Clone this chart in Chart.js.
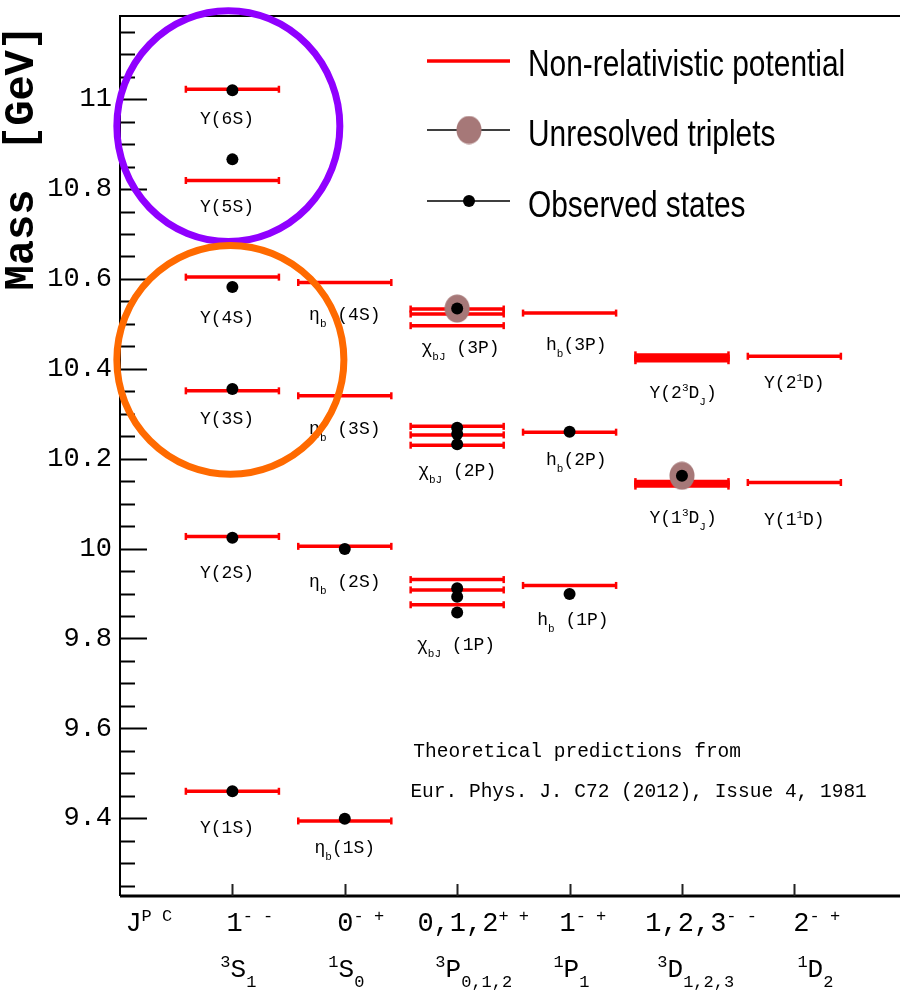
<!DOCTYPE html>
<html>
<head>
<meta charset="utf-8">
<script src="https://cdn.jsdelivr.net/npm/chart.js@4.4.0/dist/chart.umd.min.js"></script>
<style>
html, body { margin: 0; padding: 0; background: #fff; }
#wrap { width: 900px; height: 992px; }
</style>
</head>
<body>
<div id="wrap"><canvas id="chart" width="900" height="992"></canvas></div>
<script>
// --- Data --- //
const columns = [1, 2, 3, 4, 5, 6];

// non-relativistic potential predictions (GeV), per J^PC column
const theory3S1 = [9.460, 10.027, 10.351, 10.604, 10.819, 11.022];
const theory1S0 = [9.394, 10.005, 10.340, 10.592];
const theory3P = [9.875, 9.908, 9.931, 10.230, 10.253, 10.272, 10.496, 10.522, 10.533];
const theory1P1 = [9.918, 10.259, 10.524];
const theory3D = [10.139, 10.144, 10.149, 10.418, 10.424, 10.431];
const theory1D2 = [10.147, 10.428];

// observed states (GeV)
const obs3S1 = [9.460, 10.024, 10.355, 10.582, 10.866, 11.020];
const obs1S0 = [9.399, 9.999];
const obs3P = [9.858, 9.893, 9.912, 10.232, 10.255, 10.269, 10.534];
const obs1P1 = [9.899, 10.260];
const obs3D = [10.162];
const obs1D2 = [];

// unresolved triplets
const unresolvedCol = [3, 5];
const unresolvedMass = [10.534, 10.162];

const yTicks = [9.4, 9.6, 9.8, 10, 10.2, 10.4, 10.6, 10.8, 11];

// axis category labels (^{..} superscript, _{..} subscript)
const jpcLabels = ['J^{P C}', '1^{- -}', '0^{- +}', '0,1,2^{+ +}', '1^{- +}', '1,2,3^{- -}', '2^{- +}'];
const waveLabels = ['^{3}S_{1}', '^{1}S_{0}', '^{3}P_{0,1,2}', '^{1}P_{1}', '^{3}D_{1,2,3}', '^{1}D_{2}'];

// state names
const stateNames = ['Υ(1S)', 'Υ(2S)', 'Υ(3S)', 'Υ(4S)', 'Υ(5S)', 'Υ(6S)',
    'η_{b}(1S)', 'η_{b} (2S)', 'η_{b} (3S)', 'η_{b} (4S)',
    'χ_{bJ} (1P)', 'χ_{bJ} (2P)', 'χ_{bJ} (3P)',
    'h_{b} (1P)', 'h_{b}(2P)', 'h_{b}(3P)',
    'Υ(1^{3}D_{J})', 'Υ(2^{3}D_{J})', 'Υ(1^{1}D)', 'Υ(2^{1}D)'];

// --- Layout for text (data units) --- //
const stateX = [0.952, 0.952, 0.952, 0.952, 0.952, 0.952,
    2.0, 2.0, 2.0, 2.0,
    2.99, 3.0, 3.03,
    4.03, 4.06, 4.06,
    5.01, 5.01, 6.0, 6.0];
const stateY = [9.368, 9.935, 10.278, 10.502, 10.749, 10.945,
    9.322, 9.915, 10.256, 10.509,
    9.775, 10.162, 10.436,
    9.831, 10.187, 10.442,
    10.058, 10.336, 10.053, 10.358];
const jpcX = [0.048, 0.947, 1.934, 2.646, 3.91, 4.674, 5.991];
const waveX = [0.893, 1.854, 2.806, 3.856, 4.781, 6.027];

const MONO = '"Liberation Mono", "DejaVu Sans Mono", monospace';
const RED = '#ff0000';
const BROWN = '#a67878';
const halfWidth = 0.414;

// --- Build datasets --- //
const theoryByCol = [theory3S1, theory1S0, theory3P, theory1P1, theory3D, theory1D2];
const obsByCol = [obs3S1, obs1S0, obs3P, obs1P1, obs3D, obs1D2];

const theoryPoints = [];
theoryByCol.forEach((masses, i) => {
    masses.forEach(m => {
        theoryPoints.push({ x: columns[i] - halfWidth, y: m });
        theoryPoints.push({ x: columns[i] + halfWidth, y: m });
        theoryPoints.push({ x: columns[i], y: null }); // break the line
    });
});

const obsPoints = [];
obsByCol.forEach((masses, i) => masses.forEach(m => obsPoints.push({ x: columns[i], y: m })));

const unresPoints = unresolvedCol.map((c, i) => ({ x: c, y: unresolvedMass[i] }));

// brownish oval marker
const brownDot = document.createElement('canvas');
brownDot.width = 26;
brownDot.height = 29;
const bctx = brownDot.getContext('2d');
bctx.fillStyle = BROWN;
bctx.beginPath();
bctx.ellipse(13, 14.5, 12.5, 14, 0, 0, Math.PI * 2);
bctx.fill();

// --- Rich text helper --- //
function parseRich(s) {
    const parts = [];
    const re = /([\^_])\{([^}]*)\}/g;
    let last = 0, m;
    while ((m = re.exec(s))) {
        if (m.index > last) parts.push([s.slice(last, m.index), '']);
        parts.push([m[2], m[1] === '^' ? 'sup' : 'sub']);
        last = re.lastIndex;
    }
    if (last < s.length) parts.push([s.slice(last), '']);
    return parts;
}

function drawRich(ctx, s, x, y, o) {
    const parts = parseRich(s);
    const fontOf = k => (o.weight || '') + ' ' + (k ? o.small : o.size) + 'px ' + MONO;
    let w = 0;
    parts.forEach(p => { ctx.font = fontOf(p[1]); w += ctx.measureText(p[0]).width; });
    let cx = o.align === 'center' ? x - w / 2 : x;
    ctx.textAlign = 'left';
    ctx.textBaseline = 'alphabetic';
    parts.forEach(p => {
        ctx.font = fontOf(p[1]);
        const dy = p[1] === 'sup' ? -o.supDy : p[1] === 'sub' ? o.subDy : 0;
        ctx.fillText(p[0], cx, y + dy);
        cx += ctx.measureText(p[0]).width;
    });
}

// --- Decorations plugin --- //
const decor = {
    id: 'decor',
    afterDraw(chart) {
        const { ctx, chartArea: a, scales: { x, y } } = chart;
        ctx.save();
        ctx.fillStyle = '#000';
        ctx.strokeStyle = '#000';

        // frame
        ctx.lineWidth = 2;
        ctx.beginPath();
        ctx.moveTo(a.right, a.top);
        ctx.lineTo(a.left, a.top);
        ctx.lineTo(a.left, a.bottom);
        ctx.stroke();
        ctx.lineWidth = 3;
        ctx.beginPath();
        ctx.moveTo(a.left, a.bottom);
        ctx.lineTo(a.right, a.bottom);
        ctx.stroke();

        // y ticks (major every 0.2, minor every 0.05)
        ctx.lineWidth = 2;
        ctx.beginPath();
        for (let k = 185; k <= 223; k++) {
            const v = k * 0.05;
            const py = Math.round(y.getPixelForValue(v)) + 0.5;
            if (py < a.top + 2 || py > a.bottom - 2) continue;
            const len = (k % 4 === 0) ? 27 : 15;
            ctx.moveTo(a.left, py);
            ctx.lineTo(a.left + len, py);
        }
        ctx.stroke();

        // x ticks
        ctx.strokeStyle = '#222';
        ctx.beginPath();
        columns.forEach(c => {
            const px = Math.round(x.getPixelForValue(c)) + 0.5;
            ctx.moveTo(px, a.bottom);
            ctx.lineTo(px, a.bottom - 12);
        });
        ctx.stroke();

        // category labels under the axis
        jpcLabels.forEach((t, i) => {
            drawRich(ctx, t, x.getPixelForValue(jpcX[i]), a.bottom + 35,
                { size: 27, small: 17, supDy: 10, subDy: 0 });
        });
        waveLabels.forEach((t, i) => {
            drawRich(ctx, t, x.getPixelForValue(waveX[i]), a.bottom + 81,
                { size: 26, small: 17, supDy: 10, subDy: 10 });
        });

        // y title
        ctx.font = 'bold 42px ' + MONO;
        ctx.textAlign = 'center';
        ctx.textBaseline = 'alphabetic';
        ctx.save();
        ctx.translate(33, 240);
        ctx.rotate(-Math.PI / 2);
        ctx.fillText('Mass', 0, 0);
        ctx.restore();
        ctx.save();
        ctx.translate(33, 88);
        ctx.rotate(-Math.PI / 2);
        ctx.fillText('[GeV]', 0, 0);
        ctx.restore();

        // state labels
        stateNames.forEach((t, i) => {
            drawRich(ctx, t, x.getPixelForValue(stateX[i]), y.getPixelForValue(stateY[i]),
                { size: 18, small: 11, supDy: 7, subDy: 7, align: 'center' });
        });

        // reference note
        ctx.font = '19.5px ' + MONO;
        ctx.textAlign = 'left';
        ctx.fillText('Theoretical predictions from', x.getPixelForValue(2.61), y.getPixelForValue(9.537));
        ctx.fillText('Eur. Phys. J. C72 (2012), Issue 4, 1981', x.getPixelForValue(2.584), y.getPixelForValue(9.448));

        // legend
        const lx0 = 427, lx1 = 510, lmid = 469, tx = 528;
        ctx.strokeStyle = RED;
        ctx.lineWidth = 3.5;
        ctx.beginPath(); ctx.moveTo(lx0, 61); ctx.lineTo(lx1, 61); ctx.stroke();
        ctx.strokeStyle = '#000';
        ctx.lineWidth = 1.5;
        ctx.beginPath();
        ctx.moveTo(lx0, 130); ctx.lineTo(lx1, 130);
        ctx.moveTo(lx0, 201); ctx.lineTo(lx1, 201);
        ctx.stroke();
        ctx.drawImage(brownDot, lmid - 13, 130 - 14.5);
        ctx.beginPath(); ctx.arc(lmid, 201, 6, 0, Math.PI * 2); ctx.fill();

        const legendText = ['Non-relativistic potential', 'Unresolved triplets', 'Observed states'];
        const legendBase = [76, 146, 217];
        ctx.font = '36px "Liberation Sans", Arial, sans-serif';
        legendText.forEach((t, i) => {
            ctx.save();
            ctx.translate(tx, legendBase[i]);
            ctx.scale(0.83, 1);
            ctx.fillText(t, 0, 0);
            ctx.restore();
        });

        // highlight ellipses
        const ell = (cx, cy, rx, ry, color) => {
            const px = x.getPixelForValue(cx), py = y.getPixelForValue(cy);
            const prx = x.getPixelForValue(cx + rx) - px;
            const pry = y.getPixelForValue(cy - ry) - py;
            ctx.strokeStyle = color;
            ctx.lineWidth = 7;
            ctx.beginPath();
            ctx.ellipse(px, py, prx, pry, 0, 0, Math.PI * 2);
            ctx.stroke();
        };
        ell(0.964, 10.940, 0.992, 0.2568, '#9000ff');
        ell(0.982, 10.420, 1.010, 0.2546, '#ff6a00');

        ctx.restore();
    }
};

// --- Chart --- //
new Chart(document.getElementById('chart'), {
    type: 'line',
    data: {
        datasets: [
            {
                label: 'Observed states',
                data: obsPoints,
                showLine: false,
                pointRadius: 6,
                pointBackgroundColor: '#000',
                pointBorderWidth: 0,
                order: 1
            },
            {
                label: 'Unresolved triplets',
                data: unresPoints,
                showLine: false,
                pointStyle: brownDot,
                order: 2
            },
            {
                label: 'Non-relativistic potential',
                data: theoryPoints,
                borderColor: RED,
                borderWidth: 3.5,
                spanGaps: false,
                pointStyle: 'line',
                pointRotation: 90,
                pointRadius: 3.5,
                pointBorderColor: RED,
                pointBorderWidth: 2.5,
                order: 3
            }
        ]
    },
    options: {
        responsive: false,
        animation: false,
        devicePixelRatio: 1,
        layout: { autoPadding: false, padding: { top: 16, right: 0, left: 0, bottom: 0 } },
        plugins: { legend: { display: false }, tooltip: { enabled: false } },
        scales: {
            x: {
                type: 'linear', min: 0, max: 6.94,
                grid: { display: false, drawTicks: false },
                border: { display: false },
                ticks: { display: false },
                afterFit: s => { s.height = 96; s.paddingLeft = 0; s.paddingRight = 0; }
            },
            y: {
                type: 'linear', min: 9.227, max: 11.185,
                grid: { display: false, drawTicks: false },
                border: { display: false },
                afterBuildTicks: s => { s.ticks = yTicks.map(v => ({ value: v })); },
                ticks: {
                    font: { family: MONO, size: 27 },
                    color: '#000',
                    padding: 8,
                    callback: v => String(+v.toFixed(1))
                },
                afterFit: s => { s.width = 120; s.paddingTop = 0; s.paddingBottom = 0; }
            }
        }
    },
    plugins: [decor]
});
</script>
</body>
</html>
